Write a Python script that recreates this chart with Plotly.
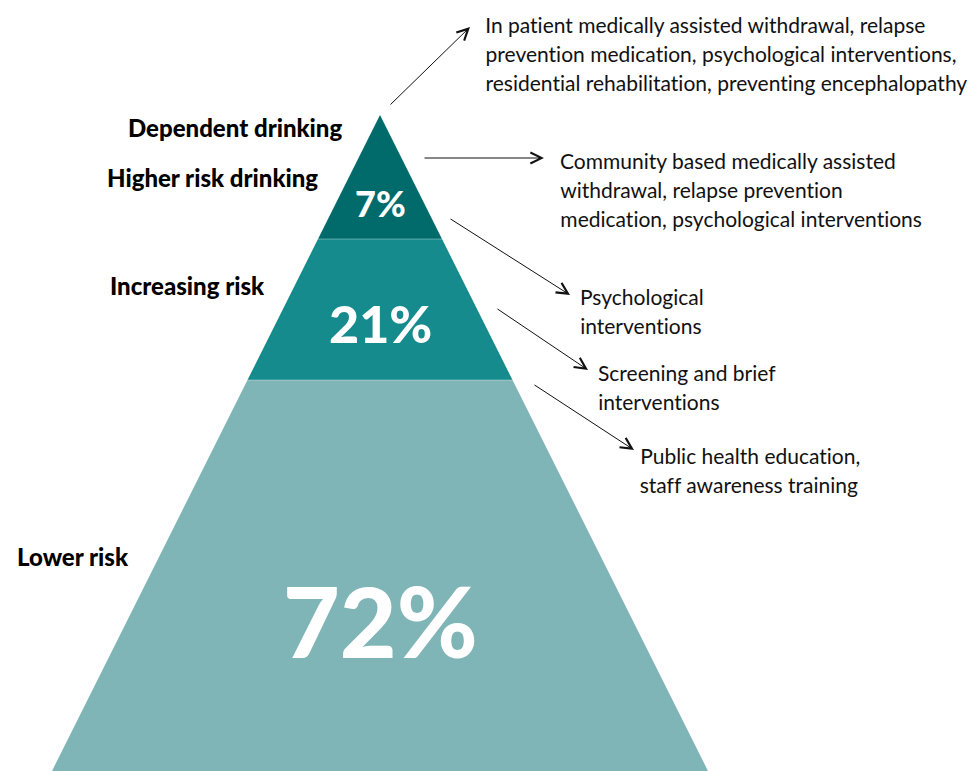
import plotly.graph_objects as go

# ---- data ----
tiers = ["Lower risk", "Increasing risk", "Higher risk drinking", "Dependent drinking"]
shares = ["72%", "21%", "7%"]  # bottom -> top sections of the pyramid
section_colors = ["#7FB5B7", "#168B8E", "#016B6C"]
interventions = [
    ["Public health education,", "staff awareness training"],
    ["Screening and brief", "interventions"],
    ["Psychological", "interventions"],
    ["Community based medically assisted", "withdrawal, relapse prevention",
     "medication, psychological interventions"],
    ["In patient medically assisted withdrawal, relapse",
     "prevention medication, psychological interventions,",
     "residential rehabilitation, preventing encephalopathy"],
]

# ---- layout geometry (canvas units = pixels) ----
W, H = 973, 771
apex = (380, 115)
half_slope = 0.5           # horizontal half-width per unit of height
cuts = [771, 380, 239, 115]  # y of section boundaries, bottom -> top
share_y = [620, 323, 203]
share_size = [98, 52, 36]
tier_label_pos = [(131, 556), (267, 285), (320, 177), (344, 127)]
text_pos = [(638, 455), (596, 372), (578, 296), (558, 160), (483, 24)]
line_gap = 29
arrows = [((533, 384), (634, 450)), ((496, 308), (588, 370)), ((449, 218), (570, 295)),
          ((423, 158), (544, 158)), ((389, 106), (470, 27))]


def half_width(y):
    return (y - apex[1]) * half_slope


fig = go.Figure()
for i in range(3):
    y0, y1 = cuts[i], cuts[i + 1]
    xs = [apex[0] - half_width(y0), apex[0] + half_width(y0),
          apex[0] + half_width(y1), apex[0] - half_width(y1), apex[0] - half_width(y0)]
    ys = [y0, y0, y1, y1, y0]
    fig.add_trace(go.Scatter(x=xs, y=ys, fill="toself", fillcolor=section_colors[i],
                             mode="lines", line=dict(width=0), hoverinfo="skip",
                             showlegend=False))
# thin separators between sections
for y in cuts[1:3]:
    fig.add_trace(go.Scatter(x=[apex[0] - half_width(y), apex[0] + half_width(y)], y=[y, y],
                             mode="lines", line=dict(color="rgba(255,255,255,0.35)", width=1),
                             hoverinfo="skip", showlegend=False))

annotations = []
for s, y, sz in zip(shares, share_y, share_size):
    annotations.append(dict(x=apex[0], y=y, text=s, showarrow=False,
                            font=dict(family="Lato", size=sz, color="white", weight=900),
                            xanchor="center", yanchor="middle"))
for t, (x, y) in zip(tiers, tier_label_pos):
    annotations.append(dict(x=x, y=y, text=t, showarrow=False,
                            font=dict(family="Lato", size=24, color="black", weight=900),
                            xanchor="right", yanchor="middle"))
for lines, (x, y) in zip(interventions, text_pos):
    for k, ln in enumerate(lines):
        annotations.append(dict(x=x, y=y + k * line_gap, text=ln, showarrow=False,
                                font=dict(family="Lato", size=21, color="#111111"),
                                xanchor="left", yanchor="middle"))
for (x0, y0), (x1, y1) in arrows:
    annotations.append(dict(x=x1, y=y1, ax=x0, ay=y0, xref="x", yref="y",
                            axref="x", ayref="y", text="", showarrow=True,
                            arrowhead=5, arrowsize=2.2, arrowwidth=1,
                            arrowcolor="#111111"))

fig.update_layout(
    width=W, height=H, margin=dict(l=0, r=0, t=0, b=0),
    paper_bgcolor="white", plot_bgcolor="white",
    xaxis=dict(range=[0, W], visible=False, fixedrange=True),
    yaxis=dict(range=[H, 0], visible=False, fixedrange=True),
    annotations=annotations,
)
post = (
    "document.body.style.margin='0px';"
    "var st=document.createElement('style');"
    "st.textContent='text{font-variant-ligatures:none !important;font-feature-settings:\"liga\" 0,\"clig\" 0 !important;}';"
    "document.head.appendChild(st);"
)
fig.write_html("out.html", post_script=post, config={"displayModeBar": False})
